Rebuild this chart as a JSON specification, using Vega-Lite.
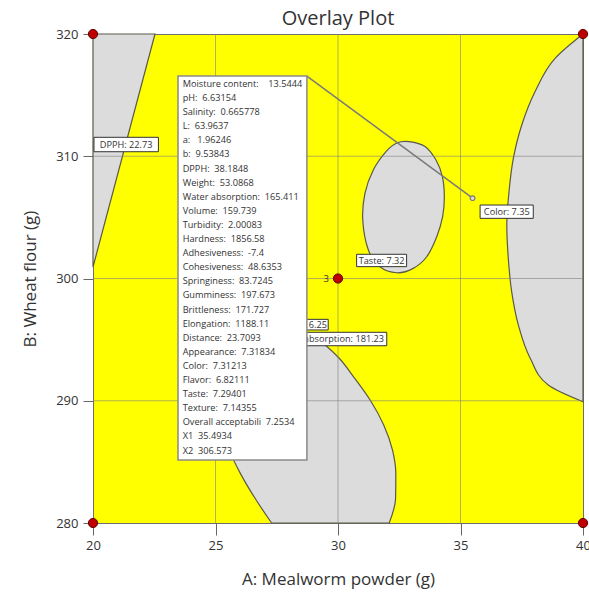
{
  "$schema": "https://vega.github.io/schema/vega-lite/v6.json",
  "width": 490,
  "height": 489,
  "autosize": "none",
  "padding": {"left": 93, "top": 34, "right": 6, "bottom": 77},
  "background": "white",
  "title": {
    "text": "Overlay Plot",
    "font": "Open Sans",
    "fontSize": 20,
    "fontWeight": "normal",
    "color": "#333333",
    "anchor": "middle",
    "frame": "group",
    "baseline": "alphabetic",
    "offset": 7,
    "dy": 25
  },
  "config": {
    "font": "Open Sans",
    "view": {"fill": "#ffff00", "stroke": "#6e6e6e", "strokeWidth": 1},
    "axis": {
      "grid": false,
      "domain": false,
      "tickColor": "#666666",
      "labelColor": "#333333",
      "labelFont": "Open Sans",
      "labelFontSize": 13,
      "labelFlush": false,
      "labelOverlap": false,
      "titleFont": "Open Sans",
      "titleFontSize": 17,
      "titleFontWeight": "normal",
      "titleColor": "#333333"
    },
    "axisX": {"tickSize": 12, "labelPadding": 4, "titlePadding": 19},
    "axisY": {"tickSize": 10, "labelPadding": 5, "titlePadding": 16}
  },
  "datasets": {
    "dpphRegion": [
      {"A": 20, "B": 300.94},
      {"A": 22.53, "B": 320}
    ],
    "colorRegion": [
      {"B": 289.92, "A": 40},
      {"B": 291.29, "A": 38.58},
      {"B": 293.5, "A": 37.84},
      {"B": 296.2, "A": 37.36},
      {"B": 298.9, "A": 37.09},
      {"B": 301.68, "A": 36.95},
      {"B": 304.38, "A": 36.89},
      {"B": 307.1, "A": 36.98},
      {"B": 309.86, "A": 37.16},
      {"B": 312.56, "A": 37.5},
      {"B": 315.28, "A": 38.04},
      {"B": 318.01, "A": 38.86},
      {"B": 320, "A": 40}
    ],
    "absorptionRegion": [
      {"B": 280, "L": 27.29, "R": 32.09},
      {"B": 282, "L": 26.62, "R": 32.35},
      {"B": 284, "L": 26.03, "R": 32.36},
      {"B": 286, "L": 25.55, "R": 32.22},
      {"B": 288, "L": 25.27, "R": 31.87},
      {"B": 290, "L": 25.27, "R": 31.33},
      {"B": 292, "L": 25.51, "R": 30.62},
      {"B": 293.5, "L": 26.0, "R": 30.04},
      {"B": 294.5, "L": 26.61, "R": 29.51},
      {"B": 295.2, "L": 27.31, "R": 29.06},
      {"B": 295.6, "L": 28.04, "R": 28.57},
      {"B": 295.75, "L": 28.3, "R": 28.3}
    ],
    "tasteRegion": [
      {"i": 0, "A": 32.9, "B": 311.2},
      {"i": 1, "A": 33.55, "B": 310.8},
      {"i": 2, "A": 34.0, "B": 309.69},
      {"i": 3, "A": 34.26, "B": 308.33},
      {"i": 4, "A": 34.34, "B": 306.69},
      {"i": 5, "A": 34.27, "B": 305.06},
      {"i": 6, "A": 34.03, "B": 303.42},
      {"i": 7, "A": 33.62, "B": 301.78},
      {"i": 8, "A": 33.07, "B": 300.83},
      {"i": 9, "A": 32.4, "B": 300.47},
      {"i": 10, "A": 31.71, "B": 300.96},
      {"i": 11, "A": 31.24, "B": 302.33},
      {"i": 12, "A": 31.01, "B": 304.79},
      {"i": 13, "A": 31.1, "B": 306.97},
      {"i": 14, "A": 31.44, "B": 308.88},
      {"i": 15, "A": 31.97, "B": 310.4},
      {"i": 16, "A": 32.42, "B": 311.1}
    ],
    "gridA": [{"A": 25}, {"A": 30}, {"A": 35}],
    "gridB": [{"B": 290}, {"B": 300}, {"B": 310}],
    "centerLabels": [
      {"label": "DPPH: 22.73", "A": 21.35, "B": 310.96, "A1": 20.04, "A2": 22.67, "B1": 310.37, "B2": 311.55},
      {"label": "Taste: 7.32", "A": 31.78, "B": 301.47, "A1": 30.76, "A2": 32.8, "B1": 300.97, "B2": 301.98},
      {"label": "Color: 7.35", "A": 36.89, "B": 305.46, "A1": 35.8, "A2": 37.97, "B1": 304.92, "B2": 306.01}
    ],
    "rightLabels": [
      {"label": "6.25", "A": 29.55, "B": 296.22, "A1": 28.04, "A2": 29.6, "B1": 295.79, "B2": 296.66},
      {"label": "Water absorption: 181.23", "A": 31.88, "B": 295.05, "A1": 26.41, "A2": 31.99, "B1": 294.5, "B2": 295.6}
    ],
    "designPoints": [
      {"A": 20, "B": 280, "runs": ""},
      {"A": 20, "B": 320, "runs": ""},
      {"A": 40, "B": 280, "runs": ""},
      {"A": 40, "B": 320, "runs": ""},
      {"A": 30, "B": 300, "runs": "3"}
    ],
    "callout": [
      {"k": 0, "A": 28.73, "B": 316.56},
      {"k": 1, "A": 35.4934, "B": 306.573}
    ],
    "probe": [{"A": 35.4934, "B": 306.573}],
    "infoBox": [{"A1": 23.47, "A2": 28.73, "B1": 285.15, "B2": 316.56}],
    "infoText": [
      {
        "A": 23.66,
        "B": 316.24,
        "lines": [
          "Moisture content:\u00a0\u00a0\u00a0\u00a013.5444",
          "pH:\u00a0\u00a06.63154",
          "Salinity:\u00a0\u00a00.665778",
          "L:\u00a0\u00a063.9637",
          "a:\u00a0\u00a0\u00a01.96246",
          "b:\u00a0\u00a09.53843",
          "DPPH:\u00a0\u00a038.1848",
          "Weight:\u00a0\u00a053.0868",
          "Water absorption:\u00a0\u00a0165.411",
          "Volume:\u00a0\u00a0159.739",
          "Turbidity:\u00a0\u00a02.00083",
          "Hardness:\u00a0\u00a01856.58",
          "Adhesiveness:\u00a0\u00a0-7.4",
          "Cohesiveness:\u00a0\u00a048.6353",
          "Springiness:\u00a0\u00a083.7245",
          "Gumminess:\u00a0\u00a0197.673",
          "Brittleness:\u00a0\u00a0171.727",
          "Elongation:\u00a0\u00a01188.11",
          "Distance:\u00a0\u00a023.7093",
          "Appearance:\u00a0\u00a07.31834",
          "Color:\u00a0\u00a07.31213",
          "Flavor:\u00a0\u00a06.82111",
          "Taste:\u00a0\u00a07.29401",
          "Texture:\u00a0\u00a07.14355",
          "Overall acceptabili\u00a0\u00a07.2534",
          "X1\u00a0\u00a035.4934",
          "X2\u00a0\u00a0306.573"
        ]
      }
    ]
  },
  "layer": [
    {
      "data": {"name": "dpphRegion"},
      "mark": {"type": "area", "orient": "horizontal", "fill": "#dcdcdc", "stroke": "#5a5a48", "strokeWidth": 1.2},
      "encoding": {
        "x": {
          "field": "A",
          "type": "quantitative",
          "scale": {"domain": [20, 40], "nice": false, "zero": false},
          "axis": {"title": "A: Mealworm powder (g)", "values": [20, 25, 30, 35, 40]}
        },
        "x2": {"datum": 20},
        "y": {
          "field": "B",
          "type": "quantitative",
          "scale": {"domain": [280, 320], "nice": false, "zero": false},
          "axis": {"title": "B: Wheat flour (g)", "values": [280, 290, 300, 310, 320]}
        }
      }
    },
    {
      "data": {"name": "colorRegion"},
      "mark": {"type": "area", "orient": "horizontal", "interpolate": "monotone", "fill": "#dcdcdc", "stroke": "#5a5a48", "strokeWidth": 1.2},
      "encoding": {
        "x": {"field": "A", "type": "quantitative"},
        "x2": {"datum": 40},
        "y": {"field": "B", "type": "quantitative"}
      }
    },
    {
      "data": {"name": "absorptionRegion"},
      "mark": {"type": "area", "orient": "horizontal", "interpolate": "monotone", "fill": "#dcdcdc", "stroke": "#5a5a48", "strokeWidth": 1.2},
      "encoding": {
        "x": {"field": "L", "type": "quantitative"},
        "x2": {"field": "R"},
        "y": {"field": "B", "type": "quantitative"}
      }
    },
    {
      "data": {"name": "tasteRegion"},
      "mark": {"type": "line", "filled": true, "interpolate": "cardinal-closed", "fill": "#dcdcdc", "stroke": "#5a5a48", "strokeWidth": 1.2},
      "encoding": {
        "x": {"field": "A", "type": "quantitative"},
        "y": {"field": "B", "type": "quantitative"},
        "order": {"field": "i", "type": "quantitative"}
      }
    },
    {
      "data": {"name": "gridA"},
      "mark": {"type": "rule", "color": "#808080", "strokeWidth": 1, "opacity": 0.6},
      "encoding": {"x": {"field": "A", "type": "quantitative"}}
    },
    {
      "data": {"name": "gridB"},
      "mark": {"type": "rule", "color": "#808080", "strokeWidth": 1, "opacity": 0.6},
      "encoding": {"y": {"field": "B", "type": "quantitative"}}
    },
    {
      "data": {"name": "centerLabels"},
      "mark": {"type": "rect", "fill": "white", "stroke": "#333333", "strokeWidth": 1},
      "encoding": {
        "x": {"field": "A1", "type": "quantitative"},
        "x2": {"field": "A2"},
        "y": {"field": "B1", "type": "quantitative"},
        "y2": {"field": "B2"}
      }
    },
    {
      "data": {"name": "centerLabels"},
      "mark": {"type": "text", "font": "Open Sans", "fontSize": 9.2, "color": "#333333", "align": "center", "baseline": "middle"},
      "encoding": {
        "x": {"field": "A", "type": "quantitative"},
        "y": {"field": "B", "type": "quantitative"},
        "text": {"field": "label", "type": "nominal"}
      }
    },
    {
      "data": {"name": "rightLabels"},
      "mark": {"type": "rect", "fill": "white", "stroke": "#333333", "strokeWidth": 1},
      "encoding": {
        "x": {"field": "A1", "type": "quantitative"},
        "x2": {"field": "A2"},
        "y": {"field": "B1", "type": "quantitative"},
        "y2": {"field": "B2"}
      }
    },
    {
      "data": {"name": "rightLabels"},
      "mark": {"type": "text", "font": "Open Sans", "fontSize": 9.2, "color": "#333333", "align": "right", "baseline": "middle"},
      "encoding": {
        "x": {"field": "A", "type": "quantitative"},
        "y": {"field": "B", "type": "quantitative"},
        "text": {"field": "label", "type": "nominal"}
      }
    },
    {
      "data": {"name": "designPoints"},
      "mark": {"type": "point", "shape": "circle", "filled": true, "size": 85, "fill": "#c00000", "stroke": "#5a0000", "strokeWidth": 1, "opacity": 1},
      "encoding": {
        "x": {"field": "A", "type": "quantitative"},
        "y": {"field": "B", "type": "quantitative"}
      }
    },
    {
      "data": {"name": "designPoints"},
      "mark": {"type": "text", "font": "Open Sans", "fontSize": 9.5, "color": "#333333", "align": "right", "baseline": "middle", "dx": -9},
      "encoding": {
        "x": {"field": "A", "type": "quantitative"},
        "y": {"field": "B", "type": "quantitative"},
        "text": {"field": "runs", "type": "nominal"}
      }
    },
    {
      "data": {"name": "callout"},
      "mark": {"type": "line", "color": "#7a7a7a", "strokeWidth": 1.5},
      "encoding": {
        "x": {"field": "A", "type": "quantitative"},
        "y": {"field": "B", "type": "quantitative"},
        "order": {"field": "k", "type": "quantitative"}
      }
    },
    {
      "data": {"name": "probe"},
      "mark": {"type": "point", "shape": "circle", "filled": false, "size": 22, "stroke": "#7a7a7a", "strokeWidth": 1.2, "fill": "#dcdcdc", "opacity": 1},
      "encoding": {
        "x": {"field": "A", "type": "quantitative"},
        "y": {"field": "B", "type": "quantitative"}
      }
    },
    {
      "data": {"name": "infoBox"},
      "mark": {"type": "rect", "fill": "white", "stroke": "#8a8a8a", "strokeWidth": 1.5},
      "encoding": {
        "x": {"field": "A1", "type": "quantitative"},
        "x2": {"field": "A2"},
        "y": {"field": "B1", "type": "quantitative"},
        "y2": {"field": "B2"}
      }
    },
    {
      "data": {"name": "infoText"},
      "mark": {"type": "text", "font": "Open Sans", "fontSize": 9.2, "color": "#333333", "align": "left", "baseline": "top", "lineHeight": 14.1},
      "encoding": {
        "x": {"field": "A", "type": "quantitative"},
        "y": {"field": "B", "type": "quantitative"},
        "text": {"field": "lines", "type": "nominal"}
      }
    }
  ]
}
